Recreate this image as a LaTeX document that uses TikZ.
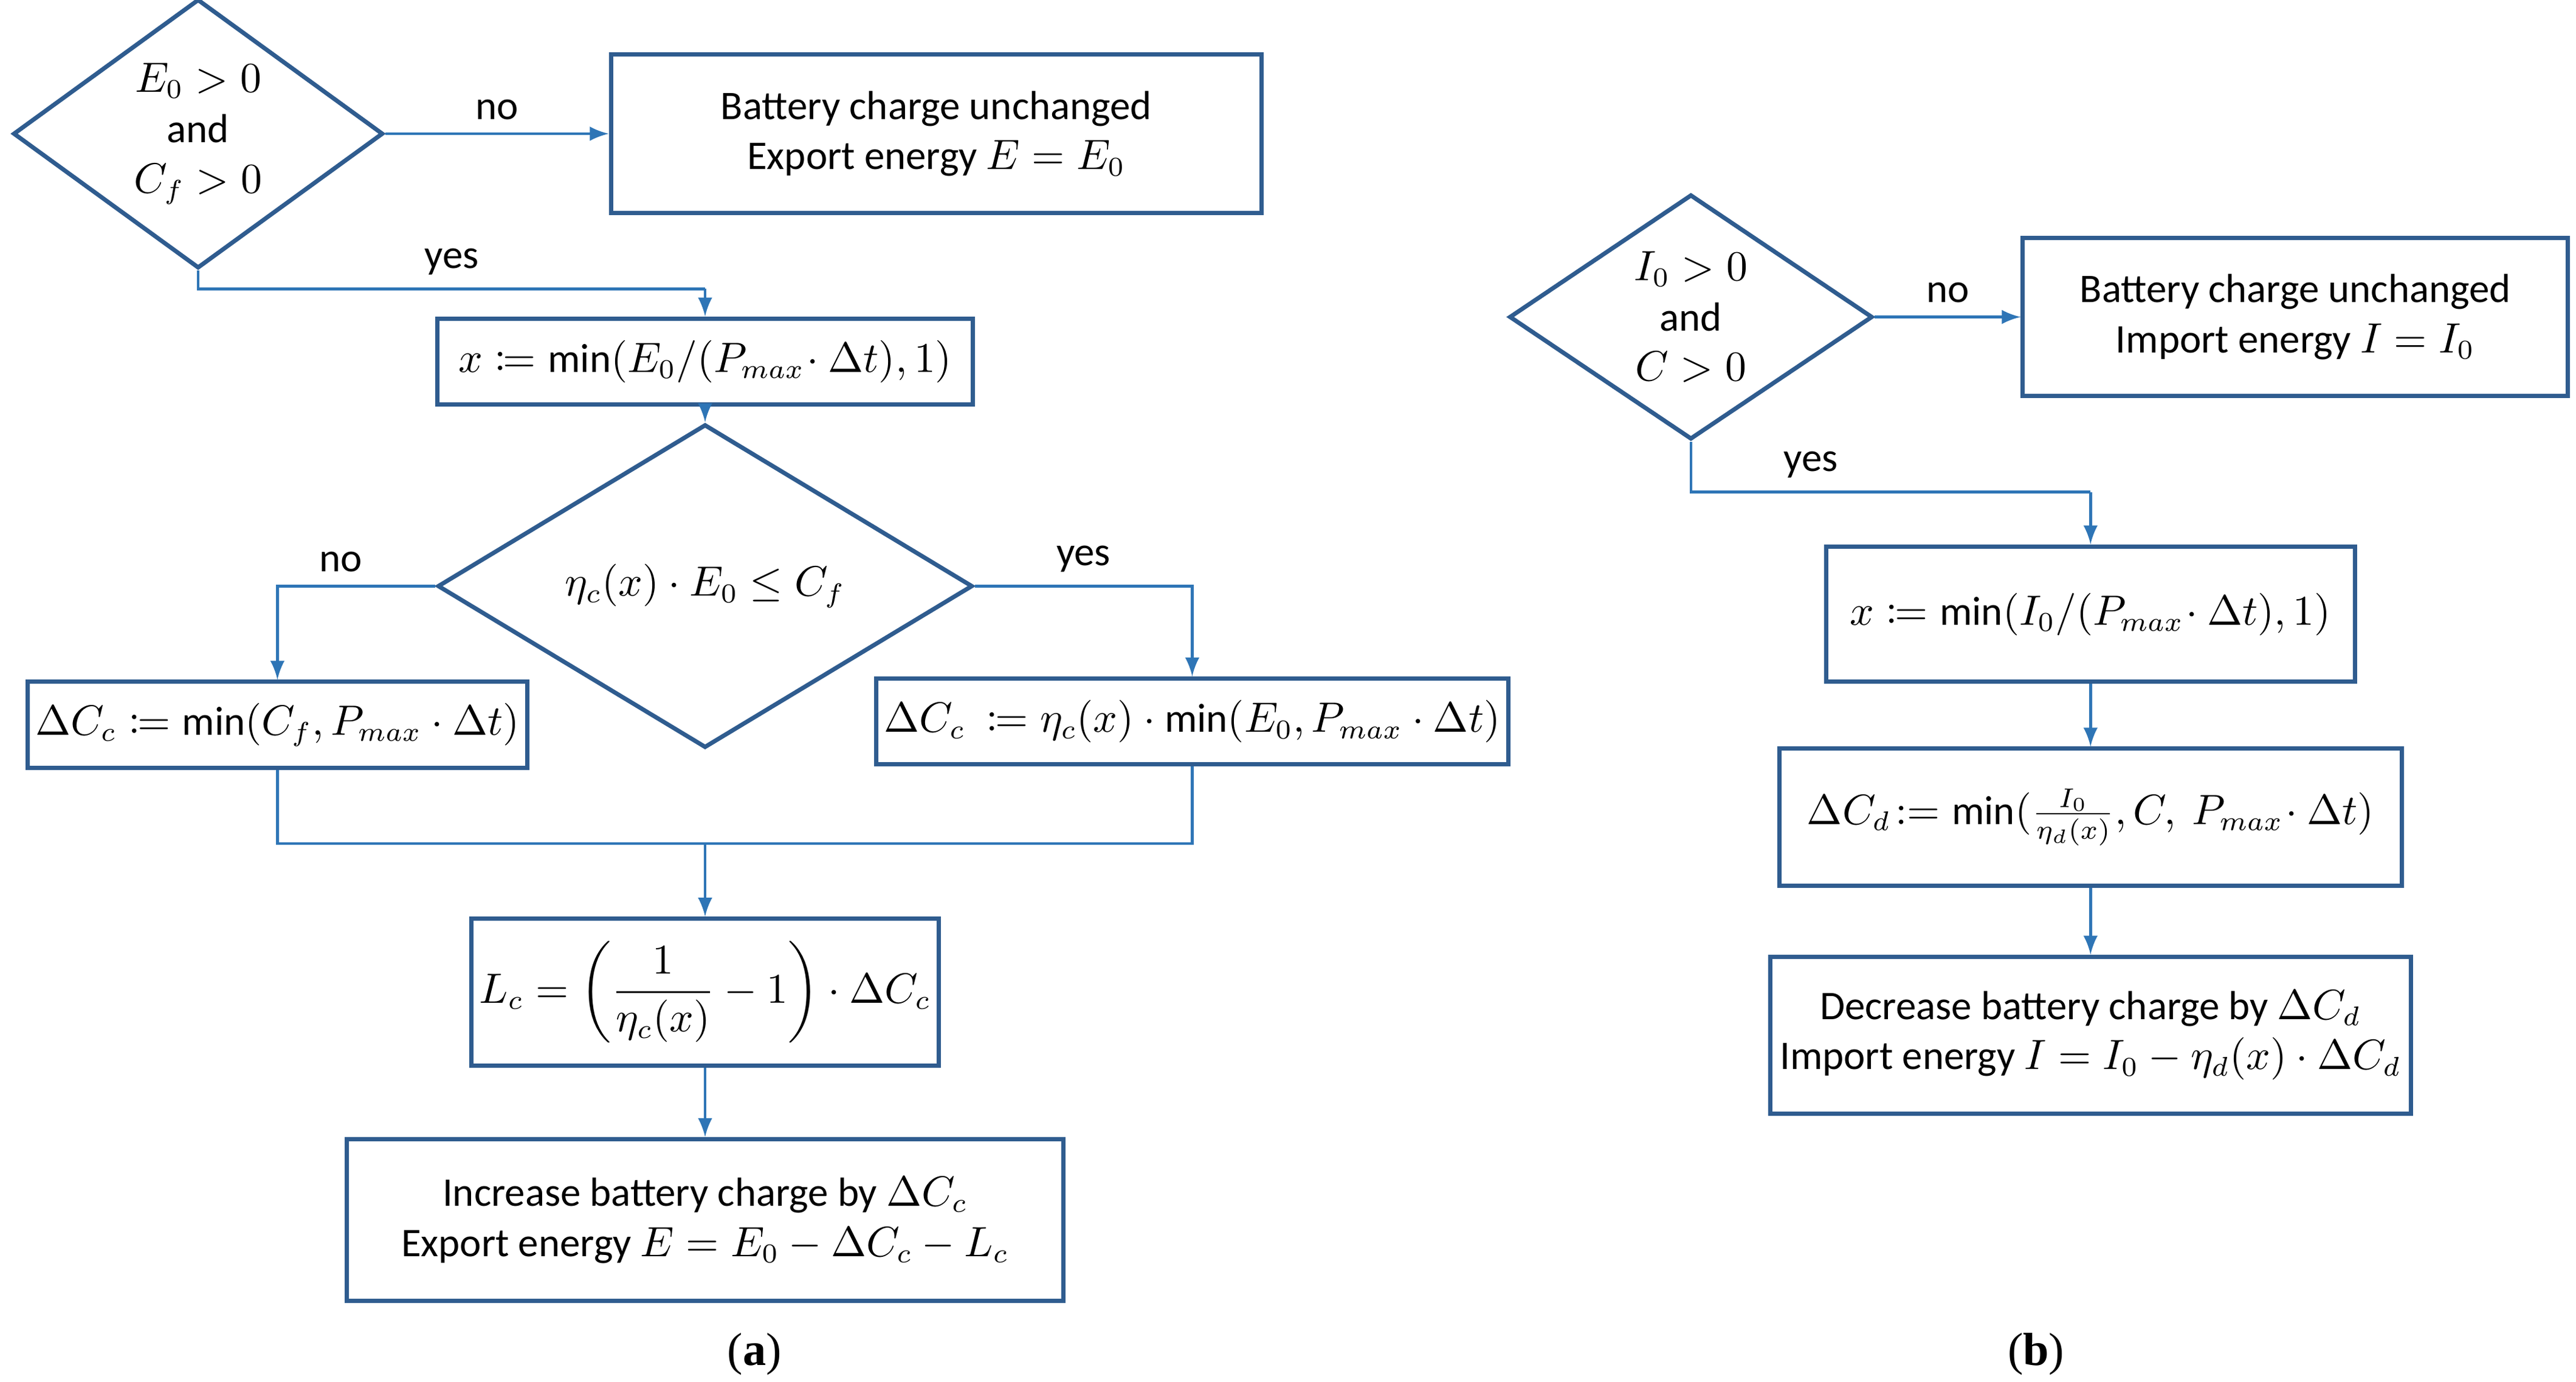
\documentclass[tikz,border=0pt]{standalone}
\usepackage{mathtools}
\usepackage{fontspec}
\setmainfont{Carlito}
\newfontfamily\capfont{Liberation Serif}
\usetikzlibrary{arrows,shapes.geometric}
\definecolor{boxblue}{HTML}{2F5C8F}
\definecolor{linkblue}{HTML}{2E75B6}
\tikzset{
  box/.style={draw=boxblue,line width=1.1pt,rectangle,inner sep=2pt,align=center,font=\fontsize{10.5}{13}\selectfont},
  dec/.style={draw=boxblue,line width=1.1pt,diamond,inner sep=0pt,align=center,font=\fontsize{10.5}{13}\selectfont},
  link/.style={draw=linkblue,line width=0.7pt,-latex},
  seg/.style={draw=linkblue,line width=0.7pt},
  lab/.style={font=\fontsize{10.5}{13}\selectfont},
}
\begin{document}
\begin{tikzpicture}[x=0.015cm,y=-0.015cm]
\useasboundingbox (0,0) rectangle (1560,837);
% (a)
\node[dec,minimum width=224*0.015cm,minimum height=150*0.015cm] (d1) at (120,81) {$E_0>0$\\and\\$C_f>0$};
\node[box,minimum width=394*0.015cm,minimum height=96*0.015cm] (b1) at (567,81) {Battery charge unchanged\\Export energy $E=E_0$};
\node[box,minimum width=324*0.015cm,minimum height=52*0.015cm] (b2) at (427,219) {$x\coloneqq\min(E_0/(P_{max}\!\cdot\Delta t),1)$};
\node[dec,minimum width=324*0.015cm,minimum height=180*0.015cm] (d2) at (427,355) {$\eta_c(x)\cdot E_0\le C_f$};
\node[box,minimum width=290*0.015cm,minimum height=52*0.015cm] (b3) at (168,439) {$\Delta C_c\coloneqq\min(C_f,P_{max}\cdot\Delta t)$};
\node[box,minimum width=371*0.015cm,minimum height=52*0.015cm] (b4) at (722,437) {$\Delta C_c\ \coloneqq\eta_c(x)\cdot\min(E_0,P_{max}\cdot\Delta t)$};
\node[box,minimum width=277*0.015cm,minimum height=89*0.015cm] (b5) at (427,601) {$L_c=\left(\dfrac{1}{\eta_c(x)}-1\right)\cdot\Delta C_c$};
\node[box,minimum width=434*0.015cm,minimum height=98*0.015cm] (b6) at (427,739) {Increase battery charge by $\Delta C_c$\\Export energy $E=E_0-\Delta C_c-L_c$};
\node[font=\capfont\fontsize{12}{14}\selectfont] (ca) at (457,820) {(\textbf{a})};
\coordinate (k1) at (427,175);
\coordinate (k2) at (427,511);
\draw[link] (d1.east) -- node[lab,above] {no} (b1.west);
\draw[seg] (d1.south) |- node[lab,above,pos=0.75] {yes} (k1);
\draw[link] (k1) -- (b2.north);
\draw[link] (b2.south) -- (d2.north);
\draw[link] (d2.west) -| node[lab,above,pos=0.3] {no} (b3.north);
\draw[link] (d2.east) -| node[lab,above,pos=0.25] {yes} (b4.north);
\draw[seg] (b3.south) |- (k2);
\draw[seg] (b4.south) |- (k2);
\draw[link] (k2) -- (b5.north);
\draw[link] (b5.south) -- (b6.north);
% (b)
\node[dec,minimum width=220*0.015cm,minimum height=148*0.015cm] (d3) at (1024,192) {$I_0>0$\\and\\$C>0$};
\node[box,minimum width=330*0.015cm,minimum height=96*0.015cm] (b7) at (1390,192) {Battery charge unchanged\\Import energy $I=I_0$};
\node[box,minimum width=320*0.015cm,minimum height=82*0.015cm] (b8) at (1266,372) {$x\coloneqq\min(I_0/(P_{max}\!\cdot\Delta t),1)$};
\node[box,minimum width=377*0.015cm,minimum height=83*0.015cm] (b9) at (1266,495) {$\Delta C_d\!:=\min(\frac{I_0}{\eta_d(x)},C,\ P_{max}\!\cdot\Delta t)$};
\node[box,minimum width=388*0.015cm,minimum height=95*0.015cm] (b10) at (1266,627) {Decrease battery charge by $\Delta C_d$\\Import energy $I=I_0-\eta_d(x)\cdot\Delta C_d$};
\node[font=\capfont\fontsize{12}{14}\selectfont] (cb) at (1233,820) {(\textbf{b})};
\coordinate (k3) at (1266,298);
\draw[link] (d3.east) -- node[lab,above] {no} (b7.west);
\draw[seg] (d3.south) |- node[lab,above,pos=0.65] {yes} (k3);
\draw[link] (k3) -- (b8.north);
\draw[link] (b8.south) -- (b9.north);
\draw[link] (b9.south) -- (b10.north);
\end{tikzpicture}
\end{document}
